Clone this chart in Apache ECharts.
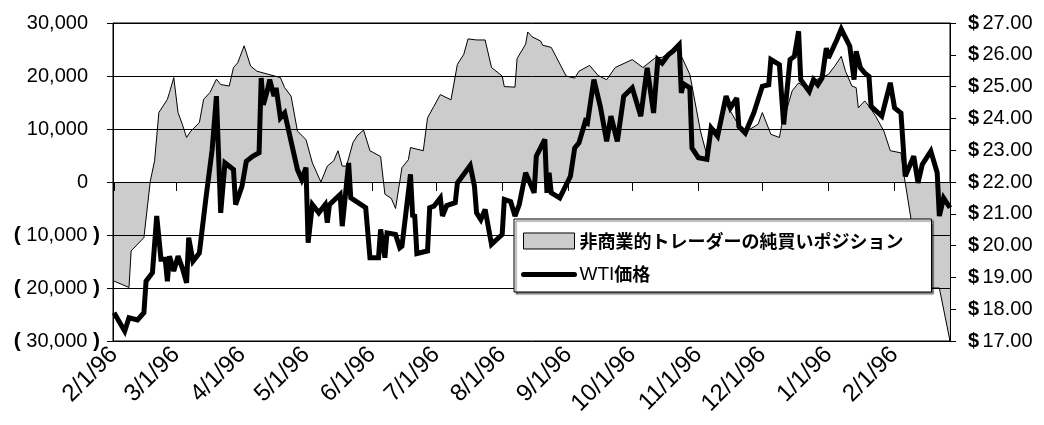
<!DOCTYPE html>
<html><head><meta charset="utf-8">
<script src="https://cdn.jsdelivr.net/npm/echarts@6/dist/echarts.min.js"></script>
<style>html,body{margin:0;padding:0;background:#fff}#c{width:1044px;height:425px}</style>
</head><body><div id="c"></div>
<script>
const areaName = '非商業的トレーダーの純買いポジション';
const priceName = 'WTI価格';

const tickDates = ['1996-02-01','1996-03-01','1996-04-01','1996-05-01','1996-06-01','1996-07-01','1996-08-01','1996-09-01','1996-10-01','1996-11-01','1996-12-01','1997-01-01','1997-02-01'];
const tickLabels = ['2/1/96','3/1/96','4/1/96','5/1/96','6/1/96','7/1/96','8/1/96','9/1/96','10/1/96','11/1/96','12/1/96','1/1/96','2/1/96'];

const areaDates = ['1996-02-01','1996-02-08','1996-02-09','1996-02-15','1996-02-18','1996-02-20','1996-02-22','1996-02-26','1996-02-27','1996-02-29',
'1996-03-02','1996-03-04','1996-03-06','1996-03-08','1996-03-12','1996-03-14','1996-03-17','1996-03-20','1996-03-22','1996-03-26',
'1996-03-28','1996-03-30','1996-04-02','1996-04-05','1996-04-08','1996-04-19','1996-04-21','1996-04-24','1996-04-27','1996-05-01',
'1996-05-04','1996-05-08','1996-05-11','1996-05-14','1996-05-16','1996-05-18','1996-05-20','1996-05-23','1996-05-25','1996-05-28',
'1996-05-31','1996-06-05','1996-06-07','1996-06-10','1996-06-12','1996-06-15','1996-06-18','1996-06-19','1996-06-25','1996-06-27',
'1996-06-30','1996-07-03','1996-07-08','1996-07-11','1996-07-14','1996-07-16','1996-07-20','1996-07-24','1996-07-27','1996-08-01',
'1996-08-02','1996-08-07','1996-08-08','1996-08-12','1996-08-13','1996-08-15','1996-08-19','1996-08-20','1996-08-24','1996-08-31',
'1996-09-04','1996-09-06','1996-09-11','1996-09-15','1996-09-19','1996-09-23','1996-10-01','1996-10-06','1996-10-12','1996-10-15',
'1996-10-22','1996-10-28','1996-11-02','1996-11-05','1996-11-08','1996-11-10','1996-11-14','1996-11-16','1996-11-20','1996-11-23',
'1996-11-25','1996-11-29','1996-12-01','1996-12-05','1996-12-09','1996-12-10','1996-12-12','1996-12-15','1996-12-18','1996-12-23',
'1996-12-25','1997-01-01','1997-01-04','1997-01-07','1997-01-09','1997-01-12','1997-01-14','1997-01-15','1997-01-18','1997-01-20',
'1997-01-23','1997-01-27','1997-01-30','1997-02-04','1997-02-05','1997-02-09','1997-02-15','1997-02-22','1997-02-27'];
const areaValues = [-18700,-19900,-13000,-10500,200,4000,13100,15600,16900,19700,
13100,10900,8400,9600,11200,15600,16900,19400,18400,18100,
21600,22500,25700,21900,20900,19700,17800,16200,9600,8000,
3600,0,3000,4000,5900,3000,3000,7400,8700,9800,
5900,4800,-2300,-3100,-5000,2700,4200,6500,5900,12100,
14300,16500,15500,22200,24100,27000,26800,26800,21600,20000,
18000,17900,23300,26000,28300,27400,26600,25800,25400,20000,
19600,20900,22000,20100,19300,21600,23100,21600,23500,23500,
25500,20300,9600,5000,10300,9600,14700,13400,10600,9600,
9900,10900,13100,9000,8400,10600,13100,17200,18700,17200,
19100,20300,21900,23700,20900,18100,17800,14000,15300,14300,
12500,9600,5900,5500,2400,-7700,-20000,-20000,-30000];

const priceDates = ['1996-02-01','1996-02-06','1996-02-08','1996-02-12','1996-02-15','1996-02-16','1996-02-19','1996-02-21','1996-02-23','1996-02-25',
'1996-02-26','1996-02-27','1996-02-29','1996-03-02','1996-03-04','1996-03-06','1996-03-07','1996-03-09','1996-03-12','1996-03-15',
'1996-03-18','1996-03-20','1996-03-22','1996-03-24','1996-03-28','1996-03-29','1996-04-01','1996-04-03','1996-04-06','1996-04-09',
'1996-04-10','1996-04-11','1996-04-13','1996-04-14','1996-04-16','1996-04-17','1996-04-19','1996-04-21','1996-04-27','1996-04-29',
'1996-05-01','1996-05-02','1996-05-04','1996-05-07','1996-05-10','1996-05-11','1996-05-12','1996-05-17','1996-05-18','1996-05-21',
'1996-05-22','1996-05-29','1996-05-31','1996-06-04','1996-06-05','1996-06-07','1996-06-08','1996-06-12','1996-06-14','1996-06-15',
'1996-06-19','1996-06-20','1996-06-21','1996-06-22','1996-06-27','1996-06-28','1996-06-30','1996-07-03','1996-07-04','1996-07-06',
'1996-07-10','1996-07-11','1996-07-17','1996-07-19','1996-07-20','1996-07-22','1996-07-24','1996-07-27','1996-08-01','1996-08-02',
'1996-08-05','1996-08-07','1996-08-09','1996-08-12','1996-08-16','1996-08-17','1996-08-21','1996-08-22','1996-08-23','1996-08-24',
'1996-08-28','1996-09-02','1996-09-04','1996-09-06','1996-09-09','1996-09-10','1996-09-13','1996-09-16','1996-09-19','1996-09-21',
'1996-09-24','1996-09-27','1996-10-01','1996-10-05','1996-10-08','1996-10-11','1996-10-13','1996-10-15','1996-10-18','1996-10-20',
'1996-10-23','1996-10-24','1996-10-25','1996-10-28','1996-10-29','1996-11-01','1996-11-05','1996-11-07','1996-11-10','1996-11-14',
'1996-11-16','1996-11-19','1996-11-20','1996-11-23','1996-11-27','1996-12-01','1996-12-04','1996-12-05','1996-12-09','1996-12-11',
'1996-12-14','1996-12-16','1996-12-18','1996-12-19','1996-12-23','1996-12-25','1996-12-27','1996-12-29','1996-12-31','1997-01-01',
'1997-01-05','1997-01-07','1997-01-11','1997-01-13','1997-01-14','1997-01-16','1997-01-18','1997-01-20','1997-01-21','1997-01-26',
'1997-01-30','1997-02-01','1997-02-04','1997-02-06','1997-02-10','1997-02-12','1997-02-14','1997-02-18','1997-02-21','1997-02-22',
'1997-02-24','1997-02-27'];
const priceValues = [17.89,17.31,17.73,17.66,17.89,18.88,19.15,20.93,19.57,19.57,
18.88,19.67,19.20,19.67,19.30,18.83,20.25,19.51,19.77,21.45,
23.02,24.70,21.03,22.60,22.39,21.29,21.87,22.65,22.81,22.92,
25.27,24.43,24.91,25.22,24.70,24.96,24.02,24.17,22.39,22.08,
22.45,20.09,21.29,21.03,21.29,20.72,21.29,21.61,20.61,22.60,
21.50,21.19,19.62,19.62,20.51,19.62,20.40,20.35,19.93,19.98,
22.24,20.95,20.93,19.75,19.83,21.19,21.24,21.50,20.93,21.26,
21.35,21.97,22.52,21.87,21.03,20.82,21.14,20.04,20.35,21.45,
21.38,20.93,21.29,22.29,21.66,22.81,23.34,21.66,22.29,21.66,
21.50,22.18,23.07,23.23,23.91,23.86,25.22,24.38,23.28,24.07,
23.28,24.70,24.96,24.07,25.59,24.17,25.85,25.74,26.01,26.11,
26.32,24.80,25.09,24.96,23.07,22.76,22.71,23.70,23.44,24.70,
24.33,24.64,23.75,23.54,24.17,25.01,25.06,25.85,25.69,23.81,
25.85,25.95,26.74,25.22,24.85,25.22,25.06,25.27,26.21,25.90,
26.48,26.81,26.27,25.22,26.11,25.59,25.43,25.32,24.38,24.07,
25.12,24.33,24.17,22.18,22.81,21.97,22.55,22.97,22.29,20.93,
21.50,21.19];

// x values are days counted from the first category date
const DAY = 86400000;
function dayOf(s) {
  const p = s.split('-').map(Number);
  return Math.round((Date.UTC(p[0], p[1] - 1, p[2]) - Date.UTC(1996, 1, 1)) / DAY);
}
const xMin = -0.5;
const xMax = dayOf('1997-02-27');
const tickDays = tickDates.map(dayOf);
const FONT = '"Liberation Sans", Arial, sans-serif';
const CJK = '"Noto Sans CJK JP", sans-serif';

const chart = echarts.init(document.getElementById('c'), null, { renderer: 'canvas' });
chart.setOption({
  animation: false,
  backgroundColor: '#fff',
  grid: { left: 113, right: 94, top: 23, bottom: 84, show: true, borderColor: '#000', borderWidth: 1, backgroundColor: 'transparent' },
  legend: {
    orient: 'vertical', left: 514, top: 219, z: 20,
    padding: [13, 28, 8, 7], itemGap: 15, itemWidth: 51, itemHeight: 16, itemTextGap: 8,
    backgroundColor: '#fff', borderColor: '#000', borderWidth: 1,
    shadowColor: 'rgba(0,0,0,0.55)', shadowOffsetX: 2, shadowOffsetY: 2, shadowBlur: 1,
    selectedMode: false,
    data: [
      { name: areaName, icon: 'rect', itemStyle: { color: '#cccccc', borderColor: '#000', borderWidth: 1 } },
      { name: priceName, itemStyle: { opacity: 0 }, lineStyle: { width: 5, color: '#000', cap: 'round' } }
    ],
    formatter: function (name) {
      const m = name.match(/^([A-Za-z]*)(.*)$/);
      return (m[1] ? '{r|' + m[1] + '}' : '') + '{b|' + m[2] + '}';
    },
    textStyle: {
      color: '#000',
      rich: {
        b: { fontFamily: CJK, fontWeight: 'bold', fontSize: 18, lineHeight: 20, color: '#000' },
        r: { fontFamily: FONT, fontSize: 19, lineHeight: 20, color: '#000' }
      }
    }
  },
  xAxis: [
    {
      type: 'value', min: xMin, max: xMax, position: 'bottom', z: 5,
      axisLine: { show: true, onZero: true, onZeroAxisIndex: 0, lineStyle: { color: '#000', width: 1 } },
      axisTick: { show: true, inside: false, length: 9, customValues: tickDays, lineStyle: { color: '#000', width: 1 } },
      axisLabel: { show: true, customValues: tickDays, formatter: function () { return ''; } },
      minorTick: { show: false },
      splitLine: { show: false }
    },
    {
      type: 'value', min: xMin, max: xMax, position: 'bottom',
      axisLine: { show: false, onZero: false },
      axisTick: { show: false },
      minorTick: { show: false },
      splitLine: { show: false },
      axisLabel: {
        show: true, rotate: 45, margin: 10, customValues: tickDays,
        fontFamily: FONT, fontSize: 24, color: '#000',
        formatter: function (v) {
          const i = tickDays.indexOf(Math.round(v));
          return i >= 0 ? tickLabels[i] : '';
        }
      }
    }
  ],
  yAxis: [
    {
      type: 'value', min: -30000, max: 30000, interval: 10000, position: 'left', z: 4,
      axisLine: { show: true, onZero: false, lineStyle: { color: '#000', width: 1 } },
      axisTick: { show: true, inside: false, length: 6, lineStyle: { color: '#000' } },
      minorTick: { show: false },
      splitLine: { show: true, lineStyle: { color: '#000', width: 1 } },
      axisLabel: {
        margin: 13, color: '#000', fontFamily: FONT, fontSize: 20,
        formatter: function (v) {
          const s = Math.abs(v).toLocaleString('en-US');
          if (v < 0) return '{p|(}{n| ' + s + ' }{p|)}';
          return '{n|' + s + '}{g| }';
        },
        rich: {
          n: { fontFamily: FONT, fontSize: 20, color: '#000' },
          p: { fontFamily: FONT, fontSize: 21, fontWeight: 'bold', color: '#000' },
          g: { width: 12 }
        }
      }
    },
    {
      type: 'value', min: 17, max: 27, interval: 1, position: 'right', z: 4,
      axisLine: { show: true, onZero: false, lineStyle: { color: '#000', width: 1 } },
      axisTick: { show: true, inside: false, length: 6, lineStyle: { color: '#000' } },
      minorTick: { show: false },
      splitLine: { show: false },
      axisLabel: {
        margin: 18, color: '#000',
        formatter: function (v) { return '{d|$} {n|' + v.toFixed(2) + '}'; },
        rich: {
          d: { fontFamily: FONT, fontSize: 20, fontWeight: 'bold', color: '#000' },
          n: { fontFamily: FONT, fontSize: 20, color: '#000' }
        }
      }
    }
  ],
  series: [
    {
      name: areaName, type: 'line', xAxisIndex: 0, yAxisIndex: 0, z: 2,
      data: areaDates.map(function (d, i) { return [dayOf(d), areaValues[i]]; }),
      symbol: 'none', silent: true,
      itemStyle: { color: '#cccccc' },
      lineStyle: { color: '#000', width: 1 },
      areaStyle: { color: '#cccccc', opacity: 1 }
    },
    {
      name: priceName, type: 'line', xAxisIndex: 0, yAxisIndex: 1, z: 6,
      data: priceDates.map(function (d, i) { return [dayOf(d), priceValues[i]]; }),
      symbol: 'none', silent: true,
      itemStyle: { color: '#000' },
      lineStyle: { color: '#000', width: 5, join: 'miter', miterLimit: 3 }
    }
  ]
});
</script>
</body></html>
